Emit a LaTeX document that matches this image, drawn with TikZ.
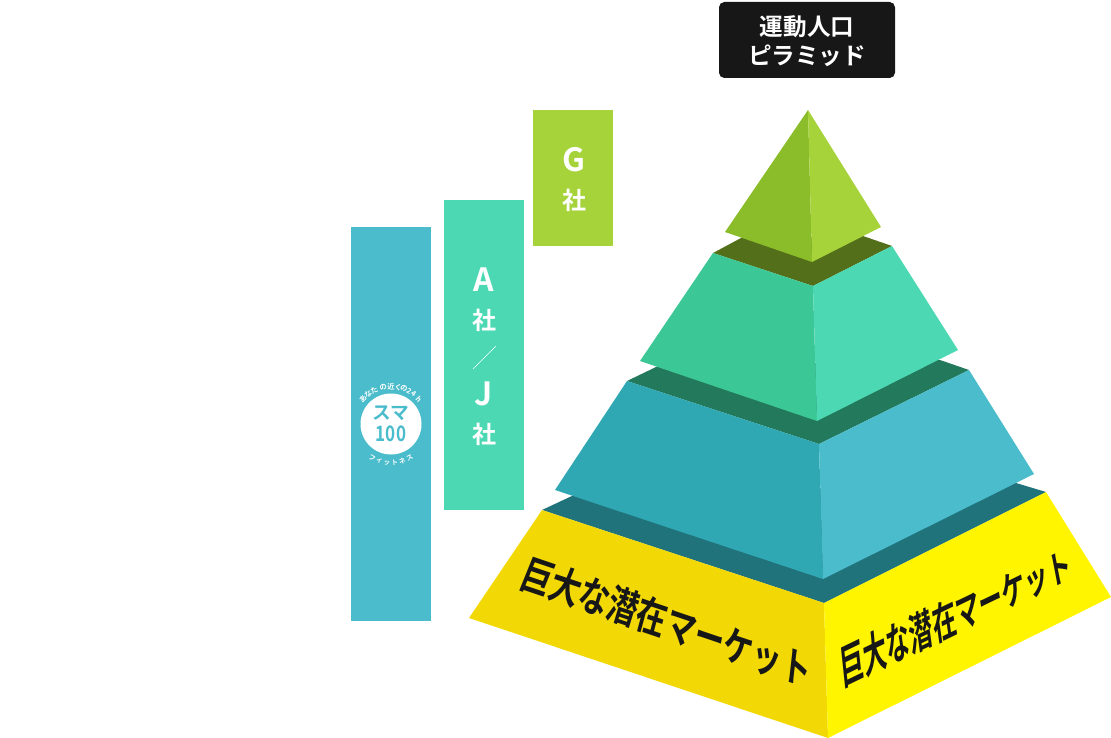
\documentclass[tikz,border=0pt]{standalone}
\usepackage{fontspec}
\setmainfont{Noto Sans CJK JP}
\newfontfamily\jpbold{Noto Sans CJK JP Bold}
\definecolor{gtop}{HTML}{8BBD2A}
\definecolor{gtopr}{HTML}{A5D339}
\definecolor{gdark}{HTML}{546F1A}
\definecolor{mintl}{HTML}{3CC896}
\definecolor{mintr}{HTML}{4CD8B2}
\definecolor{mintd}{HTML}{23795B}
\definecolor{bluel}{HTML}{2FA8B4}
\definecolor{bluer}{HTML}{4BBCCB}
\definecolor{blued}{HTML}{20727B}
\definecolor{yell}{HTML}{F2D905}
\definecolor{yelr}{HTML}{FFF500}
\definecolor{ink}{HTML}{171717}
\tikzset{
  latinlabel/.style={text=white,font=\jpbold\fontsize{24}{24}\selectfont,inner sep=0pt},
  shalabel/.style={text=white,font=\jpbold\fontsize{18}{18}\selectfont,inner sep=0pt},
  mkt/.style={text=ink,font=\jpbold\fontsize{27}{27}\selectfont,inner sep=0pt,text height=23pt,text depth=4pt}
}
\begin{document}
\begin{tikzpicture}[x=0.75pt,y=-0.75pt]
  \useasboundingbox (0,0) rectangle (1111,738);
  % bars
  \fill[bluer] (351,227) rectangle (431,621);
  \fill[mintr] (444,200) rectangle (524,510);
  \fill[gtopr] (533,110) rectangle (613,246);
  \node[latinlabel] (gname) at (574,160) {G};
  \node[shalabel] (gsha) at (574,200) {社};
  \node[latinlabel] (aname) at (484,280) {A};
  \node[shalabel] (asha) at (484,320) {社};
  \coordinate (slasha) at (473,369);
  \coordinate (slashb) at (496,346);
  \draw[white,thin] (slasha) -- (slashb);
  \node[latinlabel] (jname) at (484,394) {J};
  \node[shalabel] (jsha) at (484,434) {社};
  % logo
  \fill[white] (391,424) circle (30.5);
  \node[text=bluer,font=\jpbold\fontsize{14}{14}\selectfont,inner sep=0pt] (logoa) at (391,413) {スマ};
  \node[text=bluer,font=\jpbold\fontsize{16}{16}\selectfont,inner sep=0pt,cm={0.8,0,0,1,(0,0)}] (logob) at (391,434) {100};
  \foreach \t/\a in {あ/138,な/127.5,た/116.6,の/102,近/90,く/79,の/70,2/61,4/53,h/42}
    \node[text=white,font=\jpbold\fontsize{5.5}{6}\selectfont,inner sep=0pt,rotate=\a-90] at ({391+37.5*cos(\a)},{424-37.5*sin(\a)}) {\t};
  \foreach \t/\a in {フ/241,ィ/252.5,ッ/264,ト/275.5,ネ/287,ス/298.5}
    \node[text=white,font=\jpbold\fontsize{5}{6}\selectfont,inner sep=0pt,rotate=\a-270] at ({391+39*cos(\a)},{424-39*sin(\a)}) {\t};
  % title
  \node[fill=ink,rounded corners=4pt,minimum width=132pt,minimum height=57pt,inner sep=0pt] (titlebox) at (807,40) {};
  \node[text=white,font=\jpbold\fontsize{17.7}{21.5}\selectfont,align=center,inner sep=0pt] (title) at (807,41) {運動人口\\ピラミッド};
  % pyramid, bottom up
  \fill[blued] (542,510) -- (574,495) -- (1016,483) -- (1046,492) -- (824,603) -- cycle;
  \fill[yell] (542,510) -- (824,603) -- (828,738) -- (469,618) -- cycle;
  \fill[yelr] (824,603) -- (1046,492) -- (1111,597) -- (828,738) -- cycle;
  \fill[mintd] (627,381) -- (656,367) -- (940,360) -- (969,370) -- (819,444) -- cycle;
  \fill[bluel] (627,381) -- (819,444) -- (823,579) -- (555,490) -- cycle;
  \fill[bluer] (819,444) -- (969,370) -- (1034,474) -- (823,579) -- cycle;
  \fill[gdark] (713,253) -- (741,238) -- (863,236) -- (892,246) -- (813,286) -- cycle;
  \fill[mintl] (713,253) -- (813,286) -- (817,421) -- (640,361) -- cycle;
  \fill[mintr] (813,286) -- (892,246) -- (958,350) -- (817,421) -- cycle;
  \fill[gtop] (808,110) -- (812,262) -- (725,232) -- cycle;
  \fill[gtopr] (808,110) -- (881,227) -- (812,262) -- cycle;
  % market text, one letter at a time because the faces are in perspective
  \foreach \ch [count=\i from 0] in {巨,大,な,潜,在,マ,ー,ケ,ッ,ト} {
    \pgfmathsetmacro\tilt{22-15.5*\i/9}
    \pgfmathsetmacro\sy{1.15-0.03*\i/9}
    \pgfmathsetmacro\ma{0.85*cos(18.7)}
    \pgfmathsetmacro\mb{-0.85*sin(18.7)}
    \pgfmathsetmacro\mc{\sy*sin(\tilt)}
    \pgfmathsetmacro\md{\sy*cos(\tilt)}
    \node[mkt,cm={\ma,\mb,\mc,\md,(0,0)}] (marketl\i) at ({537+28.8*\i},{578+10*\i}) {\ch};
  }
  \foreach \ch [count=\i from 0] in {巨,大,な,潜,在,マ,ー,ケ,ッ,ト} {
    \pgfmathsetmacro\tilt{-6-5*\i/9}
    \pgfmathsetmacro\sy{1.3-0.28*\i/9}
    \pgfmathsetmacro\ma{0.71*cos(25.8)}
    \pgfmathsetmacro\mb{0.71*sin(25.8)}
    \pgfmathsetmacro\mc{\sy*sin(\tilt)}
    \pgfmathsetmacro\md{\sy*cos(\tilt)}
    \node[mkt,cm={\ma,\mb,\mc,\md,(0,0)}] (marketr\i) at ({852+23.1*\i},{665-10.6*\i}) {\ch};
  }
\end{tikzpicture}
\end{document}
